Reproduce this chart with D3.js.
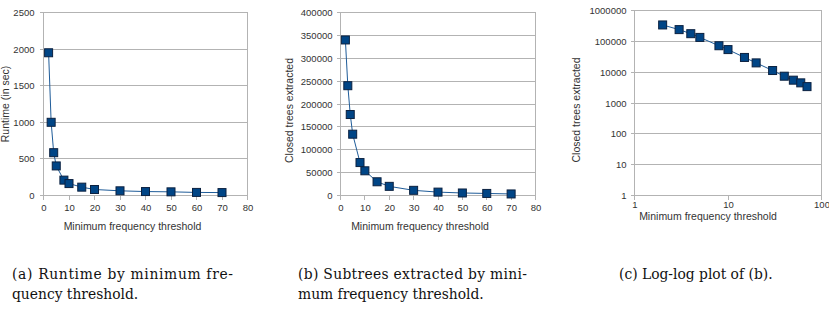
<!DOCTYPE html>
<html><head><meta charset="utf-8">
<script src="https://cdn.jsdelivr.net/npm/d3@7"></script>
<style>
body{margin:0;background:#fff;}
svg{display:block;}
.tick text{font-family:"Liberation Sans",Arial,sans-serif;font-size:9.5px;fill:#333;}
.ttl{font-family:"Liberation Sans",Arial,sans-serif;font-size:10.5px;fill:#333;}
</style></head><body>
<script>
const thresholds = [2,3,4,5,8,10,15,20,30,40,50,60,70];
const runtimeSec = [1950,1000,585,404,210,163,114,82,64,54,50,42,40];
const closedTrees = [340000,240000,177000,134000,72000,54000,30000,20000,11300,7400,5500,4500,3400];
const xTicksLin = [0,10,20,30,40,50,60,70,80];
const yTicksRuntime = [0,500,1000,1500,2000,2500];
const yTicksTrees = [0,50000,100000,150000,200000,250000,300000,350000,400000];
const xTicksLog = [1,10,100];
const yTicksLog = [1,10,100,1000,10000,100000,1000000];
const captions = [
  ["(a) Runtime by minimum fre-","quency threshold."],
  ["(b) Subtrees extracted by mini-","mum frequency threshold."],
  ["(c) Log-log plot of (b)."]
];
const xTitle = "Minimum frequency threshold";
const yTitles = ["Runtime (in sec)","Closed trees extracted","Closed trees extracted"];

const W=829,H=316;
const svg=d3.select("body").append("svg").attr("width",W).attr("height",H);
const grid="#b3b3b3", fillC="#004586", strokeC="#0b2140", lineC="#1f5c99";

function panel(o){
  const g=svg.append("g");
  const x=o.x, y=o.y;
  const [x0,x1]=x.range(), [yb,yt]=y.range();
  g.selectAll(".gl").data(o.yTicks).enter().append("line")
    .attr("x1",x0-4).attr("x2",x1).attr("y1",d=>y(d)).attr("y2",d=>y(d))
    .attr("stroke",grid).attr("stroke-width",1).attr("shape-rendering","crispEdges");
  [x0,x1].forEach(v=>g.append("line").attr("x1",v).attr("x2",v).attr("y1",yt).attr("y2",yb)
    .attr("stroke",grid).attr("shape-rendering","crispEdges"));
  g.selectAll(".xt").data(o.xTicks).enter().append("line")
    .attr("x1",d=>x(d)).attr("x2",d=>x(d)).attr("y1",yb).attr("y2",yb+4)
    .attr("stroke",grid).attr("shape-rendering","crispEdges");
  const ya=d3.axisLeft(y).tickValues(o.yTicks).tickSize(0).tickPadding(o.yPad).tickFormat(d3.format("d"));
  const ay=g.append("g").attr("transform",`translate(${x0},0)`).call(ya);
  ay.select(".domain").remove();
  const xa=d3.axisBottom(x).tickValues(o.xTicks).tickSize(0).tickPadding(o.xPad).tickFormat(d3.format("d"));
  const ax=g.append("g").attr("transform",`translate(0,${yb})`).call(xa);
  ax.select(".domain").remove();
  const pts=thresholds.map((t,i)=>[t,o.vals[i]]);
  g.append("path").datum(pts).attr("fill","none").attr("stroke",lineC).attr("stroke-width",1)
    .attr("d",d3.line().x(d=>x(d[0])).y(d=>y(d[1])));
  const s=8;
  g.selectAll(".m").data(pts).enter().append("rect")
    .attr("x",d=>x(d[0])-s/2).attr("y",d=>y(d[1])-s/2).attr("width",s).attr("height",s)
    .attr("fill",fillC).attr("stroke",strokeC).attr("stroke-width",1);
  g.append("text").attr("class","ttl").attr("text-anchor","middle")
    .attr("x",o.xtX).attr("y",o.xtY).text(xTitle);
  g.append("text").attr("class","ttl").attr("text-anchor","middle")
    .attr("transform",`translate(${o.ytX},${o.ytY}) rotate(-90)`).text(o.yTitle);
}

panel({x:d3.scaleLinear().domain([0,80]).range([43.5,247.5]),
  y:d3.scaleLinear().domain([0,2500]).range([195.5,12.5]),
  xTicks:xTicksLin,yTicks:yTicksRuntime,vals:runtimeSec,yPad:9,xPad:9,
  xtX:132.5,xtY:229.5,ytX:8.5,ytY:104,yTitle:yTitles[0]});
panel({x:d3.scaleLinear().domain([0,80]).range([340.5,535.5]),
  y:d3.scaleLinear().domain([0,400000]).range([195.5,12.5]),
  xTicks:xTicksLin,yTicks:yTicksTrees,vals:closedTrees,yPad:8,xPad:9,
  xtX:420,xtY:229.5,ytX:292.5,ytY:110.5,yTitle:yTitles[1]});
panel({x:d3.scaleLog().domain([1,100]).range([634.5,821.5]),
  y:d3.scaleLog().domain([1,1000000]).range([195.5,10.5]),
  xTicks:xTicksLog,yTicks:yTicksLog,vals:closedTrees,yPad:8,xPad:6,
  xtX:708,xtY:219.5,ytX:579.5,ytY:110,yTitle:yTitles[2]});

const capPos=[{x:12,w:221},{x:298,w:229},{x:619,w:null}];
captions.forEach((lines,i)=>{
  lines.forEach((t,j)=>{
    const tx=svg.append("text").attr("x",capPos[i].x).attr("y",279+j*19.5)
      .attr("font-family","'DejaVu Serif Condensed','DejaVu Serif',serif")
      .attr("font-stretch","condensed")
      .attr("font-size","15.4px").attr("fill","#111").text(t);
    if(j===0 && lines.length>1) tx.attr("textLength",capPos[i].w).attr("lengthAdjust","spacing");
  });
});
</script>
</body></html>
